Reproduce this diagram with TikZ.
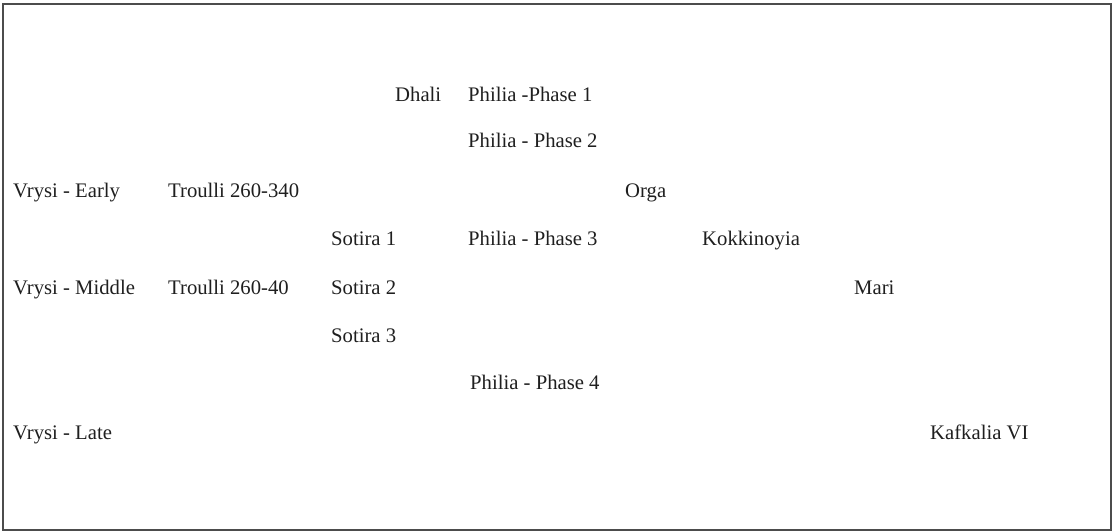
\documentclass[tikz,border=0pt]{standalone}
\usepackage{fontspec}
\setmainfont{Liberation Serif}
\begin{document}
\begin{tikzpicture}[x=1pt,y=-1pt,
  lbl/.style={anchor=base west,inner sep=0pt,font=\fontsize{20.7}{24}\selectfont,text=black!88}]
\useasboundingbox (0,0) rectangle (1113,532);
\draw[line width=2pt,draw=black!70] (3,4) rectangle (1111,530);
\node[lbl] (dhali) at (395,102) {Dhali};
\node[lbl] (p1) at (468,102) {Philia -Phase 1};
\node[lbl] (p2) at (468,147) {Philia - Phase 2};
\node[lbl] (ve) at (13,197) {Vrysi - Early};
\node[lbl] (t1) at (168,197) {Troulli 260-340};
\node[lbl] (orga) at (625,197) {Orga};
\node[lbl] (s1) at (331,245) {Sotira 1};
\node[lbl] (p3) at (468,245) {Philia - Phase 3};
\node[lbl] (kok) at (702,245) {Kokkinoyia};
\node[lbl] (vm) at (13,294) {Vrysi - Middle};
\node[lbl] (t2) at (168,294) {Troulli 260-40};
\node[lbl] (s2) at (331,294) {Sotira 2};
\node[lbl] (mari) at (854,294) {Mari};
\node[lbl] (s3) at (331,342) {Sotira 3};
\node[lbl] (p4) at (470,389) {Philia - Phase 4};
\node[lbl] (vl) at (13,439) {Vrysi - Late};
\node[lbl] (kaf) at (930,439) {Kafkalia VI};
\end{tikzpicture}
\end{document}
